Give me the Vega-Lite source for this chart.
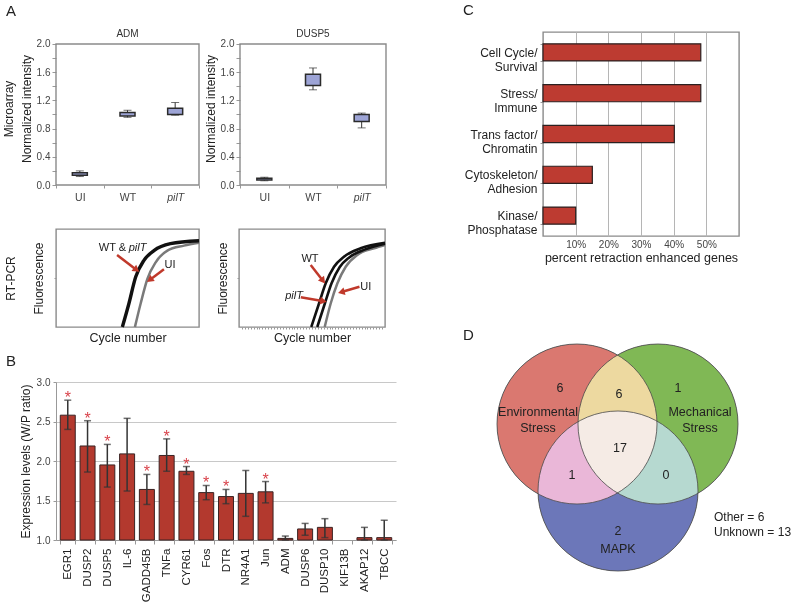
{
  "$schema": "https://vega.github.io/schema/vega-lite/v6.json",
  "padding": {"left": 2, "top": 2, "right": 2, "bottom": 2},
  "background": "white",
  "config": {
    "font": "Liberation Sans",
    "view": {"stroke": "#8a8a8a", "strokeWidth": 1.4},
    "axis": {"titleFontWeight": "normal", "labelColor": "#444", "titleColor": "#222", "tickColor": "#999", "domainColor": "#999", "grid": false, "labelFontSize": 10, "titleFontSize": 12},
    "title": {"fontWeight": "normal", "fontSize": 15, "color": "#222"}
  },
  "datasets": {
    "frame": [{"a": 0, "b": 1, "lo": 0, "hi": 2}],
    "box": [
      {"gene": "ADM", "grp": "UI", "lo": 0.12, "q1": 0.14, "q3": 0.175, "hi": 0.2},
      {"gene": "ADM", "grp": "WT", "lo": 0.96, "q1": 0.98, "q3": 1.03, "hi": 1.06},
      {"gene": "ADM", "grp": "pilT", "lo": 0.99, "q1": 1.0, "q3": 1.09, "hi": 1.17},
      {"gene": "DUSP5", "grp": "UI", "lo": 0.06, "q1": 0.07, "q3": 0.095, "hi": 0.11},
      {"gene": "DUSP5", "grp": "WT", "lo": 1.35, "q1": 1.41, "q3": 1.57, "hi": 1.66},
      {"gene": "DUSP5", "grp": "pilT", "lo": 0.81, "q1": 0.9, "q3": 1.0, "hi": 1.02}
    ],
    "boxtitle": [
      {"gene": "ADM", "grp": "WT", "t": "ADM", "v": 2.14},
      {"gene": "DUSP5", "grp": "WT", "t": "DUSP5", "v": 2.14}
    ],
    "rt": [
      {"panel": "R1", "s": "UI", "x": 55.2, "y": 0}, {"panel": "R1", "s": "UI", "x": 59.2, "y": 24}, {"panel": "R1", "s": "UI", "x": 63.9, "y": 49}, {"panel": "R1", "s": "UI", "x": 69.7, "y": 66}, {"panel": "R1", "s": "UI", "x": 77.9, "y": 78}, {"panel": "R1", "s": "UI", "x": 89.5, "y": 83}, {"panel": "R1", "s": "UI", "x": 100, "y": 86},
      {"panel": "R1", "s": "WT", "x": 46.4, "y": 0}, {"panel": "R1", "s": "WT", "x": 51, "y": 24}, {"panel": "R1", "s": "WT", "x": 55.7, "y": 51}, {"panel": "R1", "s": "WT", "x": 61.5, "y": 68}, {"panel": "R1", "s": "WT", "x": 68.5, "y": 78}, {"panel": "R1", "s": "WT", "x": 80, "y": 85}, {"panel": "R1", "s": "WT", "x": 100, "y": 88},
      {"panel": "R2", "s": "WT", "x": 49.5, "y": 0}, {"panel": "R2", "s": "WT", "x": 54.8, "y": 24}, {"panel": "R2", "s": "WT", "x": 59.4, "y": 44.6}, {"panel": "R2", "s": "WT", "x": 65.1, "y": 61.5}, {"panel": "R2", "s": "WT", "x": 71.9, "y": 71.7}, {"panel": "R2", "s": "WT", "x": 83.3, "y": 80.3}, {"panel": "R2", "s": "WT", "x": 100, "y": 86},
      {"panel": "R2", "s": "pilT", "x": 53.6, "y": 0}, {"panel": "R2", "s": "pilT", "x": 58.8, "y": 24}, {"panel": "R2", "s": "pilT", "x": 63.4, "y": 44.6}, {"panel": "R2", "s": "pilT", "x": 68.9, "y": 61}, {"panel": "R2", "s": "pilT", "x": 75.5, "y": 71}, {"panel": "R2", "s": "pilT", "x": 86, "y": 79}, {"panel": "R2", "s": "pilT", "x": 100, "y": 85},
      {"panel": "R2", "s": "UI", "x": 58.7, "y": 0}, {"panel": "R2", "s": "UI", "x": 62.8, "y": 24}, {"panel": "R2", "s": "UI", "x": 67.4, "y": 44.6}, {"panel": "R2", "s": "UI", "x": 73.1, "y": 61.5}, {"panel": "R2", "s": "UI", "x": 81, "y": 73.5}, {"panel": "R2", "s": "UI", "x": 92.5, "y": 80.3}, {"panel": "R2", "s": "UI", "x": 100, "y": 83.7}
    ],
    "arrows": [
      {"panel": "R1", "id": "a1", "x": 42.7, "y": 73.5, "x2": 55.7, "y2": 59},
      {"panel": "R1", "id": "a2", "x": 75.5, "y": 58.9, "x2": 66.2, "y2": 48.7},
      {"panel": "R2", "id": "b1", "x": 49.1, "y": 63.3, "x2": 57.1, "y2": 48},
      {"panel": "R2", "id": "b2", "x": 42.3, "y": 30.3, "x2": 57.1, "y2": 26.5},
      {"panel": "R2", "id": "b3", "x": 82.5, "y": 41.1, "x2": 70.8, "y2": 36}
    ],
    "rtlab": [
      {"panel": "R1", "t": "WT &", "x": 39.5, "y": 80.6},
      {"panel": "R1", "t": "pilT", "x": 57, "y": 80.6},
      {"panel": "R1", "t": "UI", "x": 79.7, "y": 63},
      {"panel": "R2", "t": "WT", "x": 48.6, "y": 69},
      {"panel": "R2", "t": "pilT", "x": 37.7, "y": 31.6},
      {"panel": "R2", "t": "UI", "x": 86.8, "y": 41}
    ],
    "expr": [
      {"gene": "EGR1", "v": 2.58, "lo": 2.40, "hi": 2.77, "star": 1},
      {"gene": "DUSP2", "v": 2.19, "lo": 1.86, "hi": 2.51, "star": 1},
      {"gene": "DUSP5", "v": 1.95, "lo": 1.67, "hi": 2.21, "star": 1},
      {"gene": "IL-6", "v": 2.09, "lo": 1.62, "hi": 2.54, "star": 0},
      {"gene": "GADD45B", "v": 1.64, "lo": 1.45, "hi": 1.83, "star": 1},
      {"gene": "TNFa", "v": 2.07, "lo": 1.87, "hi": 2.28, "star": 1},
      {"gene": "CYR61", "v": 1.87, "lo": 1.83, "hi": 1.93, "star": 1},
      {"gene": "Fos", "v": 1.60, "lo": 1.51, "hi": 1.69, "star": 1},
      {"gene": "DTR", "v": 1.55, "lo": 1.46, "hi": 1.64, "star": 1},
      {"gene": "NR4A1", "v": 1.59, "lo": 1.30, "hi": 1.88, "star": 0},
      {"gene": "Jun", "v": 1.61, "lo": 1.47, "hi": 1.74, "star": 1},
      {"gene": "ADM", "v": 1.02, "lo": 1.0, "hi": 1.05, "star": 0},
      {"gene": "DUSP6", "v": 1.14, "lo": 1.06, "hi": 1.21, "star": 0},
      {"gene": "DUSP10", "v": 1.16, "lo": 1.03, "hi": 1.27, "star": 0},
      {"gene": "KIF13B", "v": null, "lo": null, "hi": null, "star": 0},
      {"gene": "AKAP12", "v": 1.03, "lo": 1.0, "hi": 1.16, "star": 0},
      {"gene": "TBCC", "v": 1.03, "lo": 1.0, "hi": 1.25, "star": 0}
    ],
    "cats": [
      {"cat": "Cell Cycle/|Survival", "p": 0.483},
      {"cat": "Stress/|Immune", "p": 0.483},
      {"cat": "Trans factor/|Chromatin", "p": 0.402},
      {"cat": "Cytoskeleton/|Adhesion", "p": 0.151},
      {"cat": "Kinase/|Phosphatase", "p": 0.100}
    ],
    "venn": [
      {"set": "env", "x": 11.4, "y": 7.8},
      {"set": "mech", "x": 19.5, "y": 7.8},
      {"set": "mapk", "x": 15.5, "y": 14.5}
    ],
    "vtext": [
      {"t": "6", "x": 9.7, "y": 4.2},
      {"t": "Environmental|Stress", "x": 7.5, "y": 6.6},
      {"t": "6", "x": 15.6, "y": 4.8},
      {"t": "1", "x": 21.5, "y": 4.2},
      {"t": "Mechanical|Stress", "x": 23.7, "y": 6.6},
      {"t": "17", "x": 15.7, "y": 10.2},
      {"t": "1", "x": 10.9, "y": 12.9},
      {"t": "0", "x": 20.3, "y": 12.9},
      {"t": "2", "x": 15.5, "y": 18.5},
      {"t": "MAPK", "x": 15.5, "y": 20.3}
    ],
    "vnote": [
      {"t": "Other = 6", "x": 25.1, "y": 17.1},
      {"t": "Unknown = 13", "x": 25.1, "y": 18.6}
    ]
  },
  "hconcat": [
    {
      "spacing": 9,
      "vconcat": [
        {
          "spacing": 25,
          "vconcat": [
            {
              "bounds": "flush",
              "spacing": 41,
              "hconcat": [
                {
                  "width": 143, "height": 153,
                  "view": {"stroke": null},
                  "title": {"text": "A", "anchor": "start", "frame": "group", "dx": -50, "offset": 10},
                  "resolve": {"scale": {"x": "independent"}, "axis": {"x": "independent"}},
                  "layer": [
                    {"data": {"name": "frame"},
                     "mark": {"type": "rect", "filled": false, "color": "#8a8a8a", "strokeWidth": 1.4},
                     "encoding": {
                       "x": {"field": "a", "type": "quantitative", "scale": {"domain": [0, 1]}, "axis": null},
                       "x2": {"field": "b"},
                       "y": {"field": "lo", "type": "quantitative", "scale": {"domain": [0, 2.17]},
                             "axis": {"values": [0, 0.2, 0.4, 0.6, 0.8, 1.0, 1.2, 1.4, 1.6, 1.8, 2.0], "tickCount": 30, "labelExpr": "round(datum.value*10) % 4 == 0 ? format(datum.value, '.1f') : ''", "labelOverlap": false,
                                      "title": ["Microarray", "Normalized intensity"], "titleLineHeight": 18, "titlePadding": 3, "tickSize": 4, "labelPadding": 2, "domain": false}},
                       "y2": {"field": "hi"}}},
                    {"data": {"name": "box"}, "transform": [{"filter": "datum.gene == 'ADM'"}],
                     "mark": {"type": "rule", "color": "#333", "strokeWidth": 1},
                     "encoding": {
                       "x": {"field": "grp", "type": "nominal", "sort": null, "scale": {"domain": ["UI", "WT", "pilT"], "paddingInner": 0, "paddingOuter": 0},
                             "axis": {"title": null, "labelAngle": 0, "labelFontSize": 10.5, "labelPadding": 4, "tickBand": "extent", "tickSize": 3, "domain": false,
                                      "labelFontStyle": {"condition": {"test": "datum.value === 'pilT'", "value": "italic"}, "value": "normal"}}},
                       "y": {"field": "lo", "type": "quantitative", "scale": {"domain": [0, 2.17]}},
                       "y2": {"field": "hi"}}},
                    {"data": {"name": "box"}, "transform": [{"filter": "datum.gene == 'ADM'"}],
                     "mark": {"type": "tick", "color": "#333", "size": 8, "thickness": 1},
                     "encoding": {"x": {"field": "grp", "type": "nominal", "sort": null, "scale": {"domain": ["UI", "WT", "pilT"], "paddingInner": 0, "paddingOuter": 0}, "axis": null},
                                  "y": {"field": "lo", "type": "quantitative", "scale": {"domain": [0, 2.17]}}}},
                    {"data": {"name": "box"}, "transform": [{"filter": "datum.gene == 'ADM'"}],
                     "mark": {"type": "tick", "color": "#333", "size": 8, "thickness": 1},
                     "encoding": {"x": {"field": "grp", "type": "nominal", "sort": null, "scale": {"domain": ["UI", "WT", "pilT"], "paddingInner": 0, "paddingOuter": 0}, "axis": null},
                                  "y": {"field": "hi", "type": "quantitative", "scale": {"domain": [0, 2.17]}}}},
                    {"data": {"name": "box"}, "transform": [{"filter": "datum.gene == 'ADM'"}],
                     "mark": {"type": "bar", "fill": "#9DA4D6", "stroke": "#2b2b2b", "strokeWidth": 1.5, "width": 15},
                     "encoding": {"x": {"field": "grp", "type": "nominal", "sort": null, "scale": {"domain": ["UI", "WT", "pilT"], "paddingInner": 0, "paddingOuter": 0}, "axis": null},
                                  "y": {"field": "q1", "type": "quantitative", "scale": {"domain": [0, 2.17]}},
                                  "y2": {"field": "q3"}}},
                    {"data": {"name": "boxtitle"}, "transform": [{"filter": "datum.gene == 'ADM'"}],
                     "mark": {"type": "text", "fontSize": 10, "color": "#333", "baseline": "middle"},
                     "encoding": {"x": {"field": "grp", "type": "nominal", "sort": null, "scale": {"domain": ["UI", "WT", "pilT"], "paddingInner": 0, "paddingOuter": 0}, "axis": null},
                                  "y": {"field": "v", "type": "quantitative", "scale": {"domain": [0, 2.17]}},
                                  "text": {"field": "t"}}}
                  ]
                },
                {
                  "width": 146, "height": 153,
                  "view": {"stroke": null},
                  "resolve": {"scale": {"x": "independent"}, "axis": {"x": "independent"}},
                  "layer": [
                    {"data": {"name": "frame"},
                     "mark": {"type": "rect", "filled": false, "color": "#8a8a8a", "strokeWidth": 1.4},
                     "encoding": {
                       "x": {"field": "a", "type": "quantitative", "scale": {"domain": [0, 1]}, "axis": null},
                       "x2": {"field": "b"},
                       "y": {"field": "lo", "type": "quantitative", "scale": {"domain": [0, 2.17]},
                             "axis": {"values": [0, 0.2, 0.4, 0.6, 0.8, 1.0, 1.2, 1.4, 1.6, 1.8, 2.0], "tickCount": 30, "labelExpr": "round(datum.value*10) % 4 == 0 ? format(datum.value, '.1f') : ''", "labelOverlap": false,
                                      "title": "Normalized intensity", "titlePadding": 3, "tickSize": 4, "labelPadding": 2, "domain": false}},
                       "y2": {"field": "hi"}}},
                    {"data": {"name": "box"}, "transform": [{"filter": "datum.gene == 'DUSP5'"}],
                     "mark": {"type": "rule", "color": "#333", "strokeWidth": 1},
                     "encoding": {
                       "x": {"field": "grp", "type": "nominal", "sort": null, "scale": {"domain": ["UI", "WT", "pilT"], "paddingInner": 0, "paddingOuter": 0},
                             "axis": {"title": null, "labelAngle": 0, "labelFontSize": 10.5, "labelPadding": 4, "tickBand": "extent", "tickSize": 3, "domain": false,
                                      "labelFontStyle": {"condition": {"test": "datum.value === 'pilT'", "value": "italic"}, "value": "normal"}}},
                       "y": {"field": "lo", "type": "quantitative", "scale": {"domain": [0, 2.17]}},
                       "y2": {"field": "hi"}}},
                    {"data": {"name": "box"}, "transform": [{"filter": "datum.gene == 'DUSP5'"}],
                     "mark": {"type": "tick", "color": "#333", "size": 8, "thickness": 1},
                     "encoding": {"x": {"field": "grp", "type": "nominal", "sort": null, "scale": {"domain": ["UI", "WT", "pilT"], "paddingInner": 0, "paddingOuter": 0}, "axis": null},
                                  "y": {"field": "lo", "type": "quantitative", "scale": {"domain": [0, 2.17]}}}},
                    {"data": {"name": "box"}, "transform": [{"filter": "datum.gene == 'DUSP5'"}],
                     "mark": {"type": "tick", "color": "#333", "size": 8, "thickness": 1},
                     "encoding": {"x": {"field": "grp", "type": "nominal", "sort": null, "scale": {"domain": ["UI", "WT", "pilT"], "paddingInner": 0, "paddingOuter": 0}, "axis": null},
                                  "y": {"field": "hi", "type": "quantitative", "scale": {"domain": [0, 2.17]}}}},
                    {"data": {"name": "box"}, "transform": [{"filter": "datum.gene == 'DUSP5'"}],
                     "mark": {"type": "bar", "fill": "#9DA4D6", "stroke": "#2b2b2b", "strokeWidth": 1.5, "width": 15},
                     "encoding": {"x": {"field": "grp", "type": "nominal", "sort": null, "scale": {"domain": ["UI", "WT", "pilT"], "paddingInner": 0, "paddingOuter": 0}, "axis": null},
                                  "y": {"field": "q1", "type": "quantitative", "scale": {"domain": [0, 2.17]}},
                                  "y2": {"field": "q3"}}},
                    {"data": {"name": "boxtitle"}, "transform": [{"filter": "datum.gene == 'DUSP5'"}],
                     "mark": {"type": "text", "fontSize": 10, "color": "#333", "baseline": "middle"},
                     "encoding": {"x": {"field": "grp", "type": "nominal", "sort": null, "scale": {"domain": ["UI", "WT", "pilT"], "paddingInner": 0, "paddingOuter": 0}, "axis": null},
                                  "y": {"field": "v", "type": "quantitative", "scale": {"domain": [0, 2.17]}},
                                  "text": {"field": "t"}}}
                  ]
                }
              ]
            },
            {
              "bounds": "flush",
              "spacing": 40,
              "hconcat": [
                {
                  "width": 143, "height": 98,
                  "layer": [
                    {"data": {"name": "rt"}, "transform": [{"filter": "datum.panel == 'R1' && datum.s == 'UI'"}],
                     "mark": {"type": "line", "color": "#7a7a7a", "strokeWidth": 2.5, "interpolate": "monotone"},
                     "encoding": {
                       "x": {"field": "x", "type": "quantitative", "scale": {"domain": [0, 100]}, "axis": {"title": "Cycle number", "titleFontSize": 12.5, "labels": false, "ticks": false, "domain": false, "titlePadding": 4}},
                       "y": {"field": "y", "type": "quantitative", "scale": {"domain": [0, 100]}, "axis": {"title": ["RT-PCR", "Fluorescence"], "titleLineHeight": 28, "labels": false, "values": [50], "tickSize": 2, "domain": false, "titlePadding": 8}}}},
                    {"data": {"name": "rt"}, "transform": [{"filter": "datum.panel == 'R1' && datum.s == 'WT'"}],
                     "mark": {"type": "line", "color": "#111", "strokeWidth": 3.4, "interpolate": "monotone"},
                     "encoding": {"x": {"field": "x", "type": "quantitative", "scale": {"domain": [0, 100]}},
                                  "y": {"field": "y", "type": "quantitative", "scale": {"domain": [0, 100]}}}},
                    {"data": {"name": "arrows"}, "transform": [{"filter": "datum.panel == 'R1'"}],
                     "mark": {"type": "rule", "color": "#C0392B", "strokeWidth": 2.5},
                     "encoding": {"x": {"field": "x", "type": "quantitative", "scale": {"domain": [0, 100]}},
                                  "y": {"field": "y", "type": "quantitative", "scale": {"domain": [0, 100]}},
                                  "x2": {"field": "x2"}, "y2": {"field": "y2"}}},
                    {"data": {"name": "arrows"}, "transform": [{"filter": "datum.id == 'a1'"}],
                     "mark": {"type": "point", "shape": "triangle", "filled": true, "color": "#C0392B", "opacity": 1, "size": 60, "angle": 127},
                     "encoding": {"x": {"field": "x2", "type": "quantitative", "scale": {"domain": [0, 100]}},
                                  "y": {"field": "y2", "type": "quantitative", "scale": {"domain": [0, 100]}}}},
                    {"data": {"name": "arrows"}, "transform": [{"filter": "datum.id == 'a2'"}],
                     "mark": {"type": "point", "shape": "triangle", "filled": true, "color": "#C0392B", "opacity": 1, "size": 60, "angle": -127},
                     "encoding": {"x": {"field": "x2", "type": "quantitative", "scale": {"domain": [0, 100]}},
                                  "y": {"field": "y2", "type": "quantitative", "scale": {"domain": [0, 100]}}}},
                    {"data": {"name": "rtlab"}, "transform": [{"filter": "datum.panel == 'R1' && datum.t != 'pilT'"}],
                     "mark": {"type": "text", "fontSize": 11, "color": "#222", "baseline": "middle"},
                     "encoding": {"x": {"field": "x", "type": "quantitative", "scale": {"domain": [0, 100]}},
                                  "y": {"field": "y", "type": "quantitative", "scale": {"domain": [0, 100]}},
                                  "text": {"field": "t"}}},
                    {"data": {"name": "rtlab"}, "transform": [{"filter": "datum.panel == 'R1' && datum.t == 'pilT'"}],
                     "mark": {"type": "text", "fontSize": 11, "fontStyle": "italic", "color": "#222", "baseline": "middle"},
                     "encoding": {"x": {"field": "x", "type": "quantitative", "scale": {"domain": [0, 100]}},
                                  "y": {"field": "y", "type": "quantitative", "scale": {"domain": [0, 100]}},
                                  "text": {"field": "t"}}}
                  ]
                },
                {
                  "width": 146, "height": 98,
                  "layer": [
                    {"data": {"name": "rt"}, "transform": [{"filter": "datum.panel == 'R2' && datum.s == 'UI'"}],
                     "mark": {"type": "line", "color": "#7a7a7a", "strokeWidth": 2.5, "interpolate": "monotone"},
                     "encoding": {
                       "x": {"field": "x", "type": "quantitative", "scale": {"domain": [0, 100]}, "axis": {"title": "Cycle number", "titleFontSize": 12.5, "labels": false, "values": [2,4,6,8,10,12,14,16,18,20,22,24,26,28,30,32,34,36,38,40,42,44,46,48,50,52,54,56,58,60,62,64,66,68,70,72,74,76,78,80,82,84,86,88,90,92,94,96,98], "tickCount": 100, "tickSize": 2, "domain": false, "titlePadding": 2}},
                       "y": {"field": "y", "type": "quantitative", "scale": {"domain": [0, 100]}, "axis": {"title": "Fluorescence", "labels": false, "values": [50], "tickSize": 2, "domain": false, "titlePadding": 7}}}},
                    {"data": {"name": "rt"}, "transform": [{"filter": "datum.panel == 'R2' && datum.s == 'WT'"}],
                     "mark": {"type": "line", "color": "#111", "strokeWidth": 2.6, "interpolate": "monotone"},
                     "encoding": {"x": {"field": "x", "type": "quantitative", "scale": {"domain": [0, 100]}},
                                  "y": {"field": "y", "type": "quantitative", "scale": {"domain": [0, 100]}}}},
                    {"data": {"name": "rt"}, "transform": [{"filter": "datum.panel == 'R2' && datum.s == 'pilT'"}],
                     "mark": {"type": "line", "color": "#111", "strokeWidth": 2.6, "interpolate": "monotone"},
                     "encoding": {"x": {"field": "x", "type": "quantitative", "scale": {"domain": [0, 100]}},
                                  "y": {"field": "y", "type": "quantitative", "scale": {"domain": [0, 100]}}}},
                    {"data": {"name": "arrows"}, "transform": [{"filter": "datum.panel == 'R2'"}],
                     "mark": {"type": "rule", "color": "#C0392B", "strokeWidth": 2.5},
                     "encoding": {"x": {"field": "x", "type": "quantitative", "scale": {"domain": [0, 100]}},
                                  "y": {"field": "y", "type": "quantitative", "scale": {"domain": [0, 100]}},
                                  "x2": {"field": "x2"}, "y2": {"field": "y2"}}},
                    {"data": {"name": "arrows"}, "transform": [{"filter": "datum.id == 'b1'"}],
                     "mark": {"type": "point", "shape": "triangle", "filled": true, "color": "#C0392B", "opacity": 1, "size": 60, "angle": 142},
                     "encoding": {"x": {"field": "x2", "type": "quantitative", "scale": {"domain": [0, 100]}},
                                  "y": {"field": "y2", "type": "quantitative", "scale": {"domain": [0, 100]}}}},
                    {"data": {"name": "arrows"}, "transform": [{"filter": "datum.id == 'b2'"}],
                     "mark": {"type": "point", "shape": "triangle", "filled": true, "color": "#C0392B", "opacity": 1, "size": 60, "angle": 100},
                     "encoding": {"x": {"field": "x2", "type": "quantitative", "scale": {"domain": [0, 100]}},
                                  "y": {"field": "y2", "type": "quantitative", "scale": {"domain": [0, 100]}}}},
                    {"data": {"name": "arrows"}, "transform": [{"filter": "datum.id == 'b3'"}],
                     "mark": {"type": "point", "shape": "triangle", "filled": true, "color": "#C0392B", "opacity": 1, "size": 60, "angle": -105},
                     "encoding": {"x": {"field": "x2", "type": "quantitative", "scale": {"domain": [0, 100]}},
                                  "y": {"field": "y2", "type": "quantitative", "scale": {"domain": [0, 100]}}}},
                    {"data": {"name": "rtlab"}, "transform": [{"filter": "datum.panel == 'R2' && datum.t != 'pilT'"}],
                     "mark": {"type": "text", "fontSize": 11, "color": "#222", "baseline": "middle"},
                     "encoding": {"x": {"field": "x", "type": "quantitative", "scale": {"domain": [0, 100]}},
                                  "y": {"field": "y", "type": "quantitative", "scale": {"domain": [0, 100]}},
                                  "text": {"field": "t"}}},
                    {"data": {"name": "rtlab"}, "transform": [{"filter": "datum.panel == 'R2' && datum.t == 'pilT'"}],
                     "mark": {"type": "text", "fontSize": 11, "fontStyle": "italic", "color": "#222", "baseline": "middle"},
                     "encoding": {"x": {"field": "x", "type": "quantitative", "scale": {"domain": [0, 100]}},
                                  "y": {"field": "y", "type": "quantitative", "scale": {"domain": [0, 100]}},
                                  "text": {"field": "t"}}}
                  ]
                }
              ]
            }
          ]
        },
        {
          "width": 340, "height": 158,
          "view": {"stroke": null},
          "title": {"text": "B", "anchor": "start", "frame": "group", "dx": -50, "offset": 8},
          "data": {"name": "expr"},
          "encoding": {
            "x": {"field": "gene", "type": "nominal", "sort": null,
                  "scale": {"domain": ["EGR1", "DUSP2", "DUSP5", "IL-6", "GADD45B", "TNFa", "CYR61", "Fos", "DTR", "NR4A1", "Jun", "ADM", "DUSP6", "DUSP10", "KIF13B", "AKAP12", "TBCC"], "paddingInner": 0.242, "paddingOuter": 0.216},
                  "axis": {"title": null, "labelAngle": -90, "labelFontSize": 11.5, "labelColor": "#222", "tickBand": "extent", "tickSize": 4, "labelPadding": 4, "domain": true}}
          },
          "layer": [
            {"mark": {"type": "bar", "fill": "#B3392E", "stroke": "#3a2323", "strokeWidth": 1},
             "encoding": {"y": {"field": "v", "type": "quantitative", "scale": {"domain": [1, 3]},
                                "axis": {"values": [1, 1.5, 2, 2.5, 3], "tickCount": 20, "format": ".1f", "labelOverlap": false, "grid": true, "gridColor": "#c8c8c8", "title": "Expression levels (W/P ratio)", "titleFontSize": 12, "tickSize": 3, "labelPadding": 3, "domain": true}},
                          "y2": {"datum": 1}}},
            {"mark": {"type": "rule", "color": "#333", "strokeWidth": 1.5},
             "encoding": {"y": {"field": "lo", "type": "quantitative", "scale": {"domain": [1, 3]}}, "y2": {"field": "hi"}}},
            {"mark": {"type": "tick", "color": "#333", "size": 7, "thickness": 1.5},
             "encoding": {"y": {"field": "lo", "type": "quantitative", "scale": {"domain": [1, 3]}}}},
            {"mark": {"type": "tick", "color": "#333", "size": 7, "thickness": 1.5},
             "encoding": {"y": {"field": "hi", "type": "quantitative", "scale": {"domain": [1, 3]}}}},
            {"transform": [{"filter": "datum.star == 1"}],
             "mark": {"type": "text", "text": "*", "color": "#D9434B", "fontSize": 16, "baseline": "alphabetic", "dy": 3},
             "encoding": {"y": {"field": "hi", "type": "quantitative", "scale": {"domain": [1, 3]}}}}
          ]
        }
      ]
    },
    {
      "spacing": 63,
      "vconcat": [
        {
          "width": 196, "height": 204,
          "title": {"text": "C", "anchor": "start", "frame": "group", "dx": -80, "offset": 8},
          "data": {"name": "cats"},
          "mark": {"type": "bar", "fill": "#BD3B31", "stroke": "#2b2020", "strokeWidth": 1.2},
          "encoding": {
            "y": {"field": "cat", "type": "nominal", "sort": null, "scale": {"paddingInner": 0.58, "paddingOuter": 0.29},
                  "axis": {"title": null, "labelExpr": "split(datum.label, '|')", "labelFontSize": 12, "labelLineHeight": 14, "labelColor": "#222", "tickBand": "extent", "tickSize": 3, "labelPadding": 3, "domain": false}},
            "x": {"field": "p", "type": "quantitative", "scale": {"domain": [0, 0.6]},
                  "axis": {"values": [0.1, 0.2, 0.3, 0.4, 0.5], "tickCount": 20, "format": ".0%", "grid": true, "gridColor": "#b5b5b5", "ticks": false, "labelPadding": 3, "title": "percent retraction enhanced genes", "titleFontSize": 12.5, "titlePadding": 2, "domain": false}}
          }
        },
        {
          "width": 250, "height": 240,
          "view": {"stroke": null},
          "title": {"text": "D", "anchor": "start", "frame": "group", "dx": -80, "offset": -1},
          "layer": [
            {"data": {"name": "venn"},
             "mark": {"type": "point", "shape": "circle", "filled": true, "color": "#000000", "opacity": 1, "size": 25600},
             "encoding": {"x": {"field": "x", "type": "quantitative", "scale": {"domain": [8, 33]}, "axis": null},
                          "y": {"field": "y", "type": "quantitative", "scale": {"domain": [1.8, 25.8], "reverse": true}, "axis": null}}},
            {"data": {"name": "venn"},
             "mark": {"type": "point", "shape": "circle", "filled": true, "opacity": 1, "size": 25600, "blend": "screen"},
             "encoding": {"x": {"field": "x", "type": "quantitative", "scale": {"domain": [8, 33]}, "axis": null},
                          "y": {"field": "y", "type": "quantitative", "scale": {"domain": [1.8, 25.8], "reverse": true}, "axis": null},
                          "color": {"field": "set", "type": "nominal", "scale": {"domain": ["env", "mech", "mapk"], "range": ["#DA7870", "#80B855", "#6C77B9"]}, "legend": null}}},
            {"data": {"name": "venn"},
             "mark": {"type": "point", "shape": "circle", "filled": false, "color": "#4a4a4a", "strokeWidth": 0.8, "opacity": 1, "size": 25600},
             "encoding": {"x": {"field": "x", "type": "quantitative", "scale": {"domain": [8, 33]}, "axis": null},
                          "y": {"field": "y", "type": "quantitative", "scale": {"domain": [1.8, 25.8], "reverse": true}, "axis": null}}},
            {"data": {"name": "vtext"},
             "mark": {"type": "text", "fontSize": 12.5, "color": "#222", "lineBreak": "|", "lineHeight": 16, "baseline": "middle"},
             "encoding": {"x": {"field": "x", "type": "quantitative", "scale": {"domain": [8, 33]}, "axis": null},
                          "y": {"field": "y", "type": "quantitative", "scale": {"domain": [1.8, 25.8], "reverse": true}, "axis": null},
                          "text": {"field": "t"}}},
            {"data": {"name": "vnote"},
             "mark": {"type": "text", "fontSize": 12, "color": "#222", "align": "left", "baseline": "middle"},
             "encoding": {"x": {"field": "x", "type": "quantitative", "scale": {"domain": [8, 33]}, "axis": null},
                          "y": {"field": "y", "type": "quantitative", "scale": {"domain": [1.8, 25.8], "reverse": true}, "axis": null},
                          "text": {"field": "t"}}}
          ]
        }
      ]
    }
  ],
  "spacing": 66
}
